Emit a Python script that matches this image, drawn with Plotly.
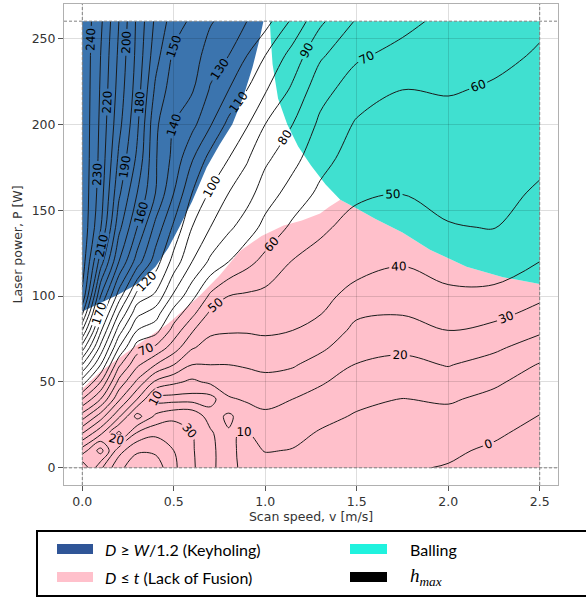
import numpy as np
import plotly.graph_objects as go

# ---------------- data ----------------
speed_grid = [0.0, 0.1, 0.2, 0.3, 0.4, 0.5, 0.6, 0.7, 0.8, 0.9, 1.0, 1.15, 1.3, 1.5, 1.75, 2.0, 2.25, 2.5]
power_grid = [0, 10, 20, 30, 40, 50, 60, 70, 80, 90, 100, 120, 140, 160, 180, 200, 220, 240, 260]

# h_max values, one list per scan-speed column (rows follow power_grid)
h_v000 = [1, 25, 50, 75, 100, 125, 150, 175, 200, 222, 238, 246, 248, 248, 248, 248, 248, 248, 248]
h_v010 = [28, 6, 32, 55, 80, 100, 120, 137, 152, 166, 180, 205, 221, 225, 227, 228, 229, 230, 232]
h_v020 = [48, 36, 7, 32, 52, 67, 82, 100, 115, 130, 145, 170, 183, 192, 198, 203, 206, 208, 210]
h_v030 = [55, 49, 32, 6, 30, 48, 62, 75, 90, 103, 116, 145, 160, 170, 178, 182, 185, 187, 188]
h_v040 = [56, 48, 38, 22, 7, 28, 50, 68, 84, 95, 108, 125, 137, 150, 151, 152, 158, 164, 168]
h_v050 = [42, 40, 35, 28, 6, 22, 40, 55, 66, 76, 88, 106, 118, 130, 137, 140, 144, 148, 155]
h_v060 = [31.5, 31, 30, 28, 6, 18, 30, 41, 51, 63, 73, 90, 100, 110, 121, 133, 141, 145, 148]
h_v070 = [23, 23, 22, 15, 6, 22, 30, 36, 42, 48, 58, 78, 90, 99, 106, 121, 129, 135, 141]
h_v080 = [13, 13, 11, 8, 19, 25, 30, 35, 41, 45, 50, 70, 82, 90, 100, 107, 120, 130, 136]
h_v090 = [7, 6, 9, 16, 21, 26, 31, 35, 41, 45, 48.5, 63, 75, 84, 91, 101, 110, 120, 130]
h_v100 = [4, 10.6, 14.6, 18.5, 22.3, 27.1, 32.4, 37.1, 41.3, 44.4, 47.5, 57, 67, 74.8, 82, 90, 101, 110, 124]
h_v115 = [3.5, 9.5, 13, 16.5, 20, 25.5, 31, 35.5, 40, 42.5, 44.8, 49.5, 58, 66, 73, 80, 88, 96, 108]
h_v130 = [3, 6, 9, 13, 17, 21, 26, 32, 36.5, 40.5, 42.5, 47, 51.5, 58, 63.5, 68, 73.5, 81.5, 92]
h_v150 = [2, 4.4, 6.2, 9, 12.5, 16, 19.6, 23.6, 27.6, 31.5, 37, 43.5, 47, 51.5, 55.2, 58.9, 64.8, 71.5, 79]
h_v175 = [1, 3.2, 5.4, 7.6, 9.8, 13.6, 17.6, 21.8, 26.4, 30.5, 34.3, 40.9, 45.6, 50.2, 53.4, 56.7, 60, 66.7, 73]
h_v200 = [-0.6, 1.7, 4.6, 7.6, 11, 15.7, 20.5, 25.2, 30, 34, 38, 44, 49.5, 52.4, 55, 57.7, 60.5, 64, 67]
h_v225 = [-5, -1.7, 1.6, 4.7, 7.8, 11.4, 16.2, 21.8, 27, 33, 38, 44, 50.3, 52.6, 54.9, 57.1, 59.3, 61.5, 64]
h_v250 = [-9, -6, -3.5, -0.3, 2.9, 6.1, 9.4, 15.3, 21.6, 27, 32, 40, 44.4, 48.9, 51.8, 54.7, 57, 59.4, 61]

# region boundaries (scan speed, laser power)
keyhole_v = [0.0, 0.99, 0.97, 0.93, 0.88, 0.82, 0.75, 0.68, 0.60, 0.53, 0.47, 0.40, 0.30, 0.20, 0.10, 0.0]
keyhole_p = [260, 260, 250, 233, 216, 200, 188, 175, 155, 140, 128, 117, 107, 101, 96, 91]

balling_lof_v = [2.5, 2.3, 2.1, 1.9, 1.75, 1.6, 1.5, 1.41]
balling_lof_p = [107, 111, 117, 127, 137, 145, 151, 156]
balling_left_v = [1.33, 1.25, 1.18, 1.12, 1.07, 1.04, 1.03, 1.025]
balling_left_p = [165, 176, 187, 200, 215, 235, 250, 260]
lof_top_v = [1.35, 1.30, 1.20, 1.10, 0.98, 0.86, 0.75, 0.64, 0.47, 0.28, 0.10, 0.0]
lof_top_p = [152, 148, 144, 141, 135, 126, 112, 100, 84, 70, 56, 46]

speed_bounds = [0.0, 2.5]
power_bounds = [0, 260]

legend_names = ["<i>D</i> ≥ <i>W</i>/1.2 (Keyholing)", "Balling",
                "<i>D</i> ≤ <i>t</i> (Lack of Fusion)", "<i>h</i><sub><i>max</i></sub>"]
legend_colors = ["#2F5597", "#20F2DE", "#FFC0CB", "#000000"]

KEY_COLOR = "#3B74AE"
BALL_COLOR = "#40E0D0"
LOF_COLOR = "#FFC0CB"

# ---------------- figure ----------------
z = np.column_stack([h_v000, h_v010, h_v020, h_v030, h_v040, h_v050, h_v060, h_v070, h_v080,
                     h_v090, h_v100, h_v115, h_v130, h_v150, h_v175, h_v200, h_v225, h_v250])


def path_from(vs, ps):
    pts = " L ".join(f"{v},{p}" for v, p in zip(vs, ps))
    return "M " + pts + " Z"


key_path = path_from(keyhole_v, keyhole_p)
ball_v = [speed_bounds[1]] + balling_lof_v + balling_left_v
ball_p = [power_bounds[1]] + balling_lof_p + balling_left_p
ball_path = path_from(ball_v, ball_p)
lof_v = [speed_bounds[0], speed_bounds[1]] + balling_lof_v + lof_top_v
lof_p = [power_bounds[0], power_bounds[0]] + balling_lof_p + lof_top_p
lof_path = path_from(lof_v, lof_p)

fig = go.Figure()

fig.add_trace(go.Contour(
    x=speed_grid, y=power_grid, z=z,
    contours=dict(start=0, end=250, size=10, coloring="lines", showlabels=True,
                  labelfont=dict(family="DejaVu Sans", size=12, color="black")),
    line=dict(width=1, smoothing=1.0),
    colorscale=[[0, "#1a1a1a"], [1, "#1a1a1a"]],
    showscale=False, showlegend=False, hoverinfo="skip", name="h_max",
))

shapes = [
    dict(type="path", path=lof_path, xref="x", yref="y", fillcolor=LOF_COLOR, line=dict(width=0), layer="below"),
    dict(type="path", path=ball_path, xref="x", yref="y", fillcolor=BALL_COLOR, line=dict(width=0), layer="below"),
    dict(type="path", path=key_path, xref="x", yref="y", fillcolor=KEY_COLOR, line=dict(width=0), layer="below"),
]
for vb in speed_bounds:
    shapes.append(dict(type="line", xref="x", yref="paper", x0=vb, x1=vb, y0=0, y1=1,
                       line=dict(color="#808080", width=1, dash="3px,2px"), layer="above"))
for pb in power_bounds:
    shapes.append(dict(type="line", xref="paper", yref="y", x0=0, x1=1, y0=pb, y1=pb,
                       line=dict(color="#808080", width=1, dash="3px,2px"), layer="above"))

# ---------------- legend box (drawn below the axes, in pixel-derived paper units) ----------------
W, H = 586, 600
ML, MR, MT, MB = 64, 28, 4, 115
PW, PH = W - ML - MR, H - MT - MB


def px_x(px):
    return (px - ML) / PW


def px_y(py):
    return (H - MB - py) / PH


shapes.append(dict(type="rect", xref="paper", yref="paper",
                   x0=px_x(37), x1=px_x(600), y0=px_y(596), y1=px_y(531),
                   line=dict(color="black", width=2), fillcolor="white", layer="above"))
swatch_x = [(57, 93), (350, 387), (57, 93), (350, 387)]
row_y = [549, 549, 577, 577]
text_x = [103, 408, 103, 408]
annotations = []
for (sx0, sx1), ry, tx, name, col in zip(swatch_x, row_y, text_x, legend_names, legend_colors):
    shapes.append(dict(type="rect", xref="paper", yref="paper",
                       x0=px_x(sx0), x1=px_x(sx1), y0=px_y(ry + 5), y1=px_y(ry - 5),
                       line=dict(width=0), fillcolor=col, layer="above"))
    is_math = "<sub>" in name
    annotations.append(dict(
        xref="paper", yref="paper", x=px_x(tx), y=px_y(ry), xanchor="left", yanchor="middle",
        text=name, showarrow=False,
        font=dict(family="Liberation Serif" if is_math else "Lato",
                  size=19 if is_math else 16, color="black")))

axis_font = dict(family="DejaVu Sans", size=12.5, color="#333333")
fig.update_layout(
    width=W, height=H,
    margin=dict(l=ML, r=MR, t=MT, b=MB),
    paper_bgcolor="white", plot_bgcolor="white",
    shapes=shapes, annotations=annotations,
    showlegend=False,
    xaxis=dict(range=[-0.1, 2.6], tickvals=[0, 0.5, 1.0, 1.5, 2.0, 2.5],
               ticktext=["0.0", "0.5", "1.0", "1.5", "2.0", "2.5"],
               ticks="outside", ticklen=5, tickcolor="#555", tickfont=axis_font,
               showline=True, mirror=True, linecolor="#b0b0b0", linewidth=1,
               showgrid=True, gridcolor="rgba(0,0,0,0.13)", zeroline=False,
               title=dict(text="Scan speed, v [m/s]", font=axis_font, standoff=2)),
    yaxis=dict(range=[-10, 270], tickvals=[0, 50, 100, 150, 200, 250],
               ticks="outside", ticklen=5, tickcolor="#555", tickfont=axis_font,
               showline=True, mirror=True, linecolor="#b0b0b0", linewidth=1,
               showgrid=True, gridcolor="rgba(0,0,0,0.13)", zeroline=False,
               title=dict(text="Laser power, P [W]", font=axis_font, standoff=6)),
)

fig.write_html("out.html")
